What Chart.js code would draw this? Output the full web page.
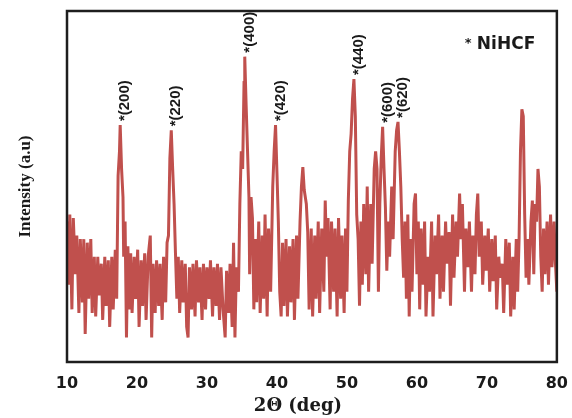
<!DOCTYPE html>
<html>
<head>
<meta charset="utf-8">
<script src="https://cdn.jsdelivr.net/npm/chart.js@4.4.0/dist/chart.umd.min.js"></script>
<style>
    html, body { margin: 0; padding: 0; background: #fff; }
    #wrap { width: 572px; height: 418px; }
</style>
</head>
<body>
<div id="wrap"><canvas id="xrd"></canvas></div>
<script>
// 2θ positions (deg) and intensity (a.u., 0-100)
const twoTheta = [
    10.0, 10.2, 10.4, 10.7, 10.9, 11.2, 11.4, 11.7, 11.9, 12.2, 12.4, 12.6, 12.9, 13.1, 13.4, 13.6, 13.9, 14.1, 14.4, 14.6,
    14.9, 15.1, 15.4, 15.6, 15.9, 16.1, 16.4, 16.6, 16.9, 17.1, 17.3, 17.5, 17.6, 17.8, 18.0, 18.1, 18.3, 18.5, 18.7, 18.9,
    19.1, 19.3, 19.6, 19.8, 20.1, 20.3, 20.6, 20.8, 21.1, 21.3, 21.6, 21.9, 22.1, 22.3, 22.6, 22.8, 23.1, 23.3, 23.6, 23.8,
    24.1, 24.3, 24.5, 24.7, 24.9, 25.1, 25.3, 25.5, 25.7, 25.9, 26.1, 26.4, 26.6, 26.9, 27.1, 27.3, 27.5, 27.8, 28.0, 28.3,
    28.5, 28.8, 29.0, 29.3, 29.5, 29.8, 30.0, 30.3, 30.5, 30.8, 31.0, 31.3, 31.5, 31.8, 32.0, 32.3, 32.6, 32.8, 33.1, 33.3,
    33.6, 33.8, 34.0, 34.2, 34.5, 34.7, 34.9, 35.1, 35.3, 35.4, 35.6, 35.8, 36.0, 36.1, 36.3, 36.5, 36.7, 36.9, 37.1, 37.4,
    37.6, 37.9, 38.1, 38.3, 38.6, 38.8, 39.1, 39.4, 39.6, 39.8, 40.0, 40.2, 40.4, 40.6, 40.8, 41.0, 41.3, 41.5, 41.8, 42.0,
    42.3, 42.5, 42.8, 43.0, 43.3, 43.5, 43.7, 43.9, 44.2, 44.4, 44.6, 44.9, 45.1, 45.4, 45.6, 45.9, 46.1, 46.4, 46.7, 46.9,
    47.1, 47.3, 47.6, 47.8, 48.1, 48.3, 48.6, 48.8, 49.1, 49.3, 49.6, 49.8, 50.0, 50.2, 50.4, 50.6, 50.8, 51.0, 51.2, 51.4,
    51.6, 51.8, 52.0, 52.2, 52.4, 52.7, 52.9, 53.1, 53.4, 53.6, 53.9, 54.1, 54.3, 54.5, 54.7, 54.9, 55.1, 55.3, 55.5, 55.7,
    55.9, 56.1, 56.4, 56.6, 56.9, 57.1, 57.3, 57.5, 57.7, 57.9, 58.1, 58.3, 58.5, 58.7, 58.9, 59.1, 59.3, 59.6, 59.8, 60.0,
    60.2, 60.4, 60.6, 60.9, 61.1, 61.3, 61.6, 61.8, 62.1, 62.3, 62.6, 62.8, 63.1, 63.3, 63.6, 63.8, 64.1, 64.3, 64.6, 64.8,
    65.1, 65.3, 65.6, 65.8, 66.1, 66.3, 66.5, 66.8, 67.0, 67.3, 67.5, 67.8, 68.0, 68.3, 68.5, 68.7, 68.9, 69.2, 69.4, 69.7,
    69.9, 70.2, 70.4, 70.7, 70.9, 71.2, 71.4, 71.7, 71.9, 72.2, 72.4, 72.7, 72.9, 73.2, 73.4, 73.7, 73.9, 74.2, 74.4, 74.6,
    74.8, 75.0, 75.2, 75.4, 75.6, 75.8, 76.0, 76.3, 76.5, 76.7, 76.9, 77.1, 77.3, 77.5, 77.7, 77.9, 78.1, 78.3, 78.6, 78.8,
    79.1, 79.3, 79.6, 79.8, 80.0
];
const intensity = [
    40, 22, 42, 15, 41, 25, 36, 14, 35, 17, 35, 8, 34, 18, 35, 14, 30, 13, 30, 19,
    28, 12, 30, 16, 29, 10, 30, 15, 32, 18, 53, 60, 67.5, 55, 47, 30, 40, 7, 33, 15,
    31, 14, 30, 18, 32, 10, 29, 16, 31, 12, 30, 36, 7, 28, 14, 29, 16, 28, 12, 30,
    17, 34, 36, 58, 66, 55, 45, 31, 18, 30, 14, 29, 17, 28, 10, 7, 27, 15, 28, 13,
    29, 17, 27, 12, 28, 15, 27, 18, 29, 13, 27, 16, 28, 12, 27, 15, 7, 26, 14, 28,
    10, 34, 7, 27, 20, 45, 60, 55, 80, 87, 73, 60, 47, 25, 47, 41, 15, 35, 17, 40,
    14, 36, 18, 42, 13, 38, 20, 50, 60, 67.5, 54, 40, 20, 13, 34, 16, 35, 13, 33, 17,
    35, 12, 36, 18, 40, 50, 55.5, 49, 45, 37, 15, 38, 13, 36, 18, 40, 14, 38, 20, 46,
    30, 41, 15, 40, 20, 38, 13, 41, 18, 36, 14, 38, 20, 46, 60, 65, 75, 80.6, 70, 42,
    35, 16, 40, 22, 45, 25, 50, 20, 45, 28, 55, 60, 55, 20, 45, 58, 67, 55, 44, 26,
    40, 30, 50, 35, 60, 66, 68.4, 60, 50, 35, 24, 40, 18, 42, 13, 35, 20, 45, 48, 25,
    40, 15, 38, 22, 40, 13, 30, 20, 40, 13, 36, 25, 42, 18, 36, 20, 40, 28, 37, 16,
    42, 24, 40, 30, 48, 35, 45, 20, 38, 27, 40, 20, 36, 25, 42, 48, 30, 40, 22, 36,
    26, 38, 20, 35, 23, 36, 15, 30, 24, 28, 14, 35, 22, 34, 13, 30, 15, 35, 20, 35,
    60, 72, 70, 42, 24, 35, 22, 40, 46, 25, 45, 40, 55, 50, 30, 20, 38, 25, 40, 22,
    42, 27, 40, 28, 20
];

// indexed reflections
const peakLabels = ['*(200)', '*(220)', '*(400)', '*(420)', '*(440)', '*(600)', '*(620)'];
const peakAngles = [17.6, 24.9, 35.4, 39.8, 51.0, 55.1, 57.3];

const xTicks = [10, 20, 30, 40, 50, 60, 70, 80];
const xTitle = '2\u0398 (deg)';
const yTitle = 'Intensity (a.u)';
const phaseLabel = 'NiHCF';

const lineRed = '#c0504d';
const frameColor = '#1e1e1e';

function peakHeight(angle) {
    let best = 0;
    twoTheta.forEach((t, i) => {
        if (Math.abs(t - angle) <= 0.25 && intensity[i] > best) best = intensity[i];
    });
    return best;
}

// frame, peak labels, axis titles
const decorations = {
    id: 'decorations',
    afterDatasetsDraw(chart) {
        const { ctx, chartArea: area, scales } = chart;
        ctx.save();

        ctx.strokeStyle = frameColor;
        ctx.lineWidth = 2.5;
        ctx.strokeRect(area.left, area.top, area.right - area.left, area.bottom - area.top);

        ctx.fillStyle = '#1a1a1a';
        ctx.font = 'bold 15px "Liberation Sans", Arial, sans-serif';
        ctx.textAlign = 'left';
        ctx.textBaseline = 'middle';
        peakLabels.forEach((label, i) => {
            const x = scales.x.getPixelForValue(peakAngles[i]) + 5;
            const y = scales.y.getPixelForValue(peakHeight(peakAngles[i])) - 4;
            ctx.save();
            ctx.translate(x, y);
            ctx.rotate(-Math.PI / 2);
            ctx.fillText(label, 0, 0);
            ctx.restore();
        });

        // phase key, top right
        ctx.textBaseline = 'alphabetic';
        ctx.font = 'bold 17px "DejaVu Sans", sans-serif';
        ctx.fillText(phaseLabel, area.right - 80, area.top + 38);
        ctx.font = 'bold 13px "DejaVu Sans", sans-serif';
        ctx.fillText('*', area.right - 92, area.top + 36);

        // y title
        ctx.save();
        ctx.translate(26, (area.top + area.bottom) / 2);
        ctx.rotate(-Math.PI / 2);
        ctx.textAlign = 'center';
        ctx.textBaseline = 'middle';
        ctx.font = 'bold 17px "Liberation Serif", serif';
        ctx.fillText(yTitle, 0, 0);
        ctx.restore();

        // x title
        ctx.textAlign = 'center';
        ctx.textBaseline = 'middle';
        ctx.font = 'bold 18px "DejaVu Serif", serif';
        ctx.fillText(xTitle, (area.left + area.right) / 2 - 14, 406);

        ctx.restore();
    }
};

new Chart(document.getElementById('xrd'), {
    type: 'line',
    data: {
        datasets: [{
            data: twoTheta.map((t, i) => ({ x: t, y: intensity[i] })),
            borderColor: lineRed,
            borderWidth: 3,
            borderJoinStyle: 'bevel',
            pointRadius: 0,
            fill: false
        }]
    },
    options: {
        responsive: true,
        maintainAspectRatio: false,
        animation: false,
        layout: { padding: { left: 67, right: 4, top: 11, bottom: 0 } },
        plugins: {
            legend: { display: false },
            tooltip: { enabled: false }
        },
        scales: {
            x: {
                type: 'linear',
                min: 10,
                max: 80,
                afterBuildTicks: axis => { axis.ticks = xTicks.map(v => ({ value: v })); },
                afterFit: axis => { axis.height = 56; },
                grid: { display: false },
                border: { display: false },
                ticks: {
                    padding: 4,
                    color: '#1a1a1a',
                    font: { family: '"DejaVu Sans", sans-serif', size: 16, weight: 'bold' }
                }
            },
            y: {
                display: false,
                min: 0,
                max: 100
            }
        }
    },
    plugins: [decorations]
});
</script>
</body>
</html>
